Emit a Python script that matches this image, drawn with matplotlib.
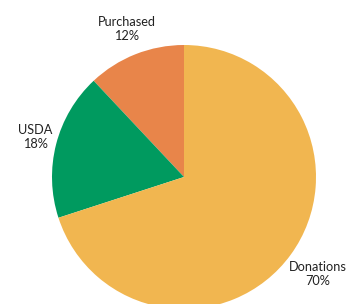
import matplotlib
matplotlib.use("Agg")
import matplotlib.pyplot as plt

categories = ["Purchased", "USDA", "Donations"]
values = [12, 18, 70]
colors = ["#E8854A", "#009A5F", "#F1B650"]

W, H = 359, 304
fig = plt.figure(figsize=(W / 100, H / 100), dpi=100)
ax = fig.add_axes([0, 0, 1, 1])

cx, cy, r = 184, H - 177, 132
ax.pie(values, colors=colors, startangle=90, counterclock=True,
       center=(cx, cy), radius=r, frame=True,
       wedgeprops=dict(linewidth=0))
ax.set_xlim(0, W)
ax.set_ylim(0, H)
ax.set_aspect("equal")
ax.axis("off")

label_pos = [(127, H - 29), (35, H - 137), (318, H - 274)]
for cat, v, (x, y) in zip(categories, values, label_pos):
    ax.text(x, y, f"{cat}\n{v}%", ha="center", va="center",
            fontsize=9.2, family=["Lato", "DejaVu Sans"], color="#222222",
            linespacing=1.2)

fig.savefig("out.png", dpi=100)
